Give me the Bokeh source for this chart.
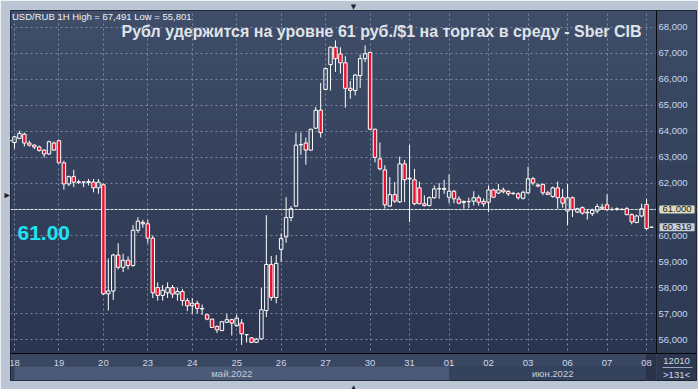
import numpy as np
from bokeh.plotting import figure
from bokeh.models import (ColumnDataSource, LinearAxis, FixedTicker, Range1d, Span,
                          Label, Grid, BoxAnnotation, Title)
from bokeh.embed import file_html
from bokeh.resources import INLINE

# ---------------- data ----------------
day_labels = ["18", "19", "20", "23", "24", "25", "26", "27", "30", "31",
              "01", "02", "03", "06", "07", "08"]
bars_per_day = [9, 9, 9, 9, 9, 9, 9, 9, 8, 8, 8, 8, 8, 8, 8, 2]
lead_bars = 1
month_labels = ["май.2022", "июн.2022"]
month_first_day = ["18", "01"]
price_ticks = [56, 57, 58, 59, 60, 61, 62, 63, 64, 65, 66, 67, 68]
price_tick_labels = ["56,000", "57,000", "58,000", "59,000", "60,000", "61,000", "62,000",
                     "63,000", "64,000", "65,000", "66,000", "67,000", "68,000"]
header_text = "USD/RUB 1H High = 67,491 Low = 55,801"
title_text = "Рубл удержится на уровне 61 руб./$1 на торгах в среду - Sber CIB"
level_price = 61.00
last_price = 60.319
counter_top = "12010"
counter_bottom = ">131<"

opens = [63.66, 63.57, 63.73, 63.89, 63.55, 63.47, 63.40, 63.28, 63.13, 63.55,
         63.64, 62.79, 61.98, 62.26, 62.06, 62.05, 62.04, 62.05, 61.83, 61.95,
         57.76, 57.87, 59.25, 58.78, 59.05, 58.85, 60.20, 60.50, 60.45, 59.90,
         58.00, 57.70, 57.80, 58.00, 57.75, 57.85, 57.50, 57.30, 57.40, 57.20,
         56.96, 56.79, 56.51, 56.35, 56.67, 56.77, 56.54, 56.64, 56.19, 56.07,
         55.90, 56.03, 57.12, 58.89, 57.62, 59.47, 59.95, 60.69, 61.13, 63.48,
         63.55, 63.28, 64.12, 64.81, 65.61, 66.56, 67.23, 66.97, 66.63, 65.65,
         65.57, 66.14, 66.79, 67.03, 64.08, 62.94, 62.52, 61.13, 61.57, 61.29,
         62.75, 62.20, 62.14, 61.83, 61.22, 61.15, 61.45, 61.79, 61.77, 61.47,
         61.70, 61.40, 61.27, 61.30, 61.32, 61.45, 61.31, 61.28, 61.75, 61.63,
         61.75, 61.69, 61.62, 61.60, 61.43, 61.64, 62.18, 61.94, 61.96, 61.64,
         61.50, 61.83, 61.45, 60.94, 61.45, 60.90, 61.07, 60.90, 60.84, 60.94,
         61.05, 61.18, 61.00, 61.02, 61.00, 61.03, 60.80, 60.50, 60.75, 61.19,
         60.32]
highs = [63.70, 63.82, 64.02, 63.95, 63.64, 63.50, 63.45, 63.30, 63.64, 63.61,
         63.66, 62.87, 62.30, 62.52, 62.14, 62.08, 62.17, 62.17, 62.17, 62.00,
         59.12, 59.30, 59.70, 59.30, 59.20, 60.40, 60.70, 60.60, 60.60, 60.00,
         58.20, 58.10, 58.20, 58.10, 58.00, 57.95, 57.60, 57.60, 57.50, 57.35,
         57.00, 56.80, 56.55, 56.72, 56.99, 56.80, 56.96, 56.79, 56.22, 56.10,
         56.05, 57.98, 60.78, 59.21, 59.25, 60.08, 61.47, 61.13, 63.95, 63.95,
         63.76, 64.10, 64.94, 65.86, 66.45, 67.25, 67.49, 67.23, 66.88, 65.93,
         66.20, 66.95, 67.30, 67.05, 64.10, 63.57, 62.70, 62.24, 62.05, 63.03,
         62.90, 63.48, 62.56, 62.07, 61.54, 61.50, 61.92, 62.01, 62.14, 62.34,
         61.75, 61.50, 61.34, 61.45, 61.70, 61.55, 61.42, 61.92, 61.80, 61.98,
         61.84, 61.75, 61.68, 61.66, 61.72, 62.64, 62.25, 62.00, 62.00, 61.72,
         61.88, 62.07, 61.79, 61.98, 61.50, 61.07, 61.12, 60.98, 61.03, 61.22,
         61.22, 61.58, 61.08, 61.08, 61.05, 61.10, 60.85, 60.80, 61.22, 61.41,
         60.33]
lows = [63.58, 63.34, 63.70, 63.42, 63.41, 63.32, 63.22, 63.00, 63.10, 63.25,
        62.77, 61.76, 61.90, 61.86, 61.98, 61.86, 61.92, 61.66, 61.60, 57.72,
        57.12, 57.53, 58.70, 58.60, 58.70, 58.80, 60.10, 60.30, 59.70, 57.60,
        57.50, 57.50, 57.60, 57.60, 57.50, 57.30, 57.10, 57.00, 57.00, 56.95,
        56.75, 56.45, 56.26, 56.33, 56.65, 56.16, 56.50, 55.80, 55.89, 55.87,
        55.88, 56.00, 56.87, 57.50, 57.40, 58.99, 59.72, 60.55, 61.10, 63.10,
        62.72, 63.25, 64.10, 63.76, 65.58, 65.57, 66.28, 66.22, 64.91, 65.25,
        65.38, 65.67, 66.66, 64.05, 62.81, 62.50, 61.03, 61.10, 61.25, 61.25,
        61.28, 60.52, 61.16, 61.20, 61.12, 61.12, 61.42, 61.41, 61.60, 61.24,
        61.24, 61.20, 61.03, 61.05, 61.15, 61.15, 61.10, 60.90, 61.45, 61.60,
        61.62, 61.52, 61.56, 61.38, 61.38, 61.60, 61.93, 61.85, 61.55, 61.55,
        61.45, 61.03, 61.07, 60.39, 60.71, 60.87, 60.80, 60.61, 60.75, 60.85,
        60.98, 60.94, 60.94, 60.95, 60.96, 60.78, 60.43, 60.47, 60.70, 60.20,
        60.31]
closes = [63.62, 63.79, 63.92, 63.55, 63.47, 63.40, 63.27, 63.13, 63.60, 63.28,
          62.79, 61.98, 62.26, 62.05, 62.04, 62.05, 62.07, 61.83, 62.05, 57.76,
          57.87, 59.25, 58.78, 59.05, 58.85, 60.20, 60.55, 60.45, 59.90, 57.80,
          57.70, 57.90, 58.00, 57.75, 57.85, 57.50, 57.30, 57.40, 57.20, 57.18,
          56.79, 56.47, 56.38, 56.69, 56.77, 56.64, 56.83, 56.23, 56.20, 55.90,
          56.03, 57.15, 58.89, 57.62, 58.93, 59.89, 60.69, 61.03, 63.47, 63.49,
          63.28, 64.08, 64.81, 63.95, 66.41, 67.23, 66.79, 66.63, 65.65, 65.57,
          66.16, 66.79, 66.98, 64.08, 63.00, 62.56, 61.18, 61.57, 61.32, 62.75,
          62.14, 62.17, 61.22, 61.22, 61.15, 61.45, 61.79, 61.80, 61.81, 61.70,
          61.41, 61.24, 61.31, 61.31, 61.45, 61.28, 61.22, 61.75, 61.47, 61.75,
          61.68, 61.60, 61.61, 61.45, 61.66, 62.18, 62.02, 61.90, 61.64, 61.58,
          61.83, 61.45, 61.24, 61.45, 60.99, 61.03, 60.86, 60.87, 60.97, 61.11,
          61.09, 60.99, 61.00, 61.02, 61.00, 60.80, 60.52, 60.75, 61.03, 60.27,
          60.32]

# ---------------- geometry (pixels of the 698x389 window) ----------------
W, H = 698, 389
FL, FT = 9, 9                 # frame = whole dark area: x 9..696, y 9..381
FR, FB = 696, 381
PX_PRICE_R, PX_PRICE_B = 656, 354     # right / bottom edge of the price area
X0 = 0.19
SX = 4.9453                   # pixels per bar
Y1 = 68.638
SY = 26.191                   # pixels per rouble
X1 = X0 + (FR - FL) / SX
Y0 = Y1 - (FB - FT) / SY


def ix(px):
    return X0 + (px - FL) / SX


def py(pv):
    return Y1 - (pv - FT) / SY


XE, YE = ix(PX_PRICE_R), py(PX_PRICE_B)

n = len(opens)
xs = np.arange(n)
o = np.array(opens); c = np.array(closes); hi = np.array(highs); lo = np.array(lows)
body_top = np.maximum(o, c)
body_bot = np.minimum(o, c)
up = c >= o

day_starts = [int(v) for v in lead_bars + np.concatenate([[0], np.cumsum(bars_per_day)[:-1]])]
m_left = [day_starts[day_labels.index(d)] for d in month_first_day]
m_right = m_left[1:] + [XE]
m_centers = [int(round((a + b) / 2)) for a, b in zip(m_left, m_right)]

BORDER = "#bac6d4"
p = figure(width=W, height=H, x_range=Range1d(X0, X1), y_range=Range1d(Y0, Y1),
           output_backend="svg", toolbar_location=None,
           x_axis_location=None, y_axis_location=None,
           min_border_left=FL, min_border_top=FT,
           min_border_right=W - FR, min_border_bottom=H - FB)
# drop the default grids that figure() creates for its hidden axes
p.center = [r for r in p.center if not isinstance(r, Grid)]
p.border_fill_color = BORDER
p.background_fill_color = "#36435f"
p.outline_line_color = "#161c29"
p.outline_line_width = 1

# window arrows (terminal scroll markers) as titles in the light border
p.title.text = "▼"
p.title.align = "center"
p.title.text_font = "DejaVu Sans"
p.title.text_font_size = "7px"
p.title.text_color = "#1b2232"
p.title.standoff = 0
p.add_layout(Title(text="▲", align="center", text_font="DejaVu Sans", text_font_size="6px",
                   text_color="#1b2232", standoff=0), "below")
p.add_layout(Title(text="▼", align="center", text_font="DejaVu Sans", text_font_size="7px",
                   text_color="#1b2232", standoff=0), "left")

# gradient background of the chart
NG = 200
tt = np.linspace(0, 1, NG)
bot_rgb = np.array([43, 53, 79]); top_rgb = np.array([64, 78, 105])
img = np.zeros((NG, 1), dtype=np.uint32)
view = img.view(dtype=np.uint8).reshape((NG, 1, 4))
for i in range(NG):
    col = bot_rgb + (top_rgb - bot_rgb) * tt[i]
    view[i, 0, 0:3] = col.astype(np.uint8)
    view[i, 0, 3] = 255
p.image_rgba(image=[img], x=X0, y=YE, dw=XE - X0, dh=Y1 - YE, level="image")


def plain_axis(ax, size="9.5px", color="#c5d8f2", standoff=2):
    ax.major_tick_line_color = None
    ax.minor_tick_line_color = None
    ax.major_tick_out = 0
    ax.major_tick_in = 0
    ax.minor_tick_out = 0
    ax.minor_tick_in = 0
    ax.major_label_standoff = standoff
    ax.major_label_text_color = color
    ax.major_label_text_font = "Liberation Sans"
    ax.major_label_text_font_size = size


# axes fixed at the edges of the price area
yax = LinearAxis(ticker=FixedTicker(ticks=price_ticks), fixed_location=XE, bounds=(YE, Y1),
                 major_label_overrides={t: s for t, s in zip(price_ticks, price_tick_labels)})
plain_axis(yax, standoff=2)
yax.axis_line_color = "#05070b"
p.add_layout(yax, "right")

xax = LinearAxis(ticker=FixedTicker(ticks=day_starts), fixed_location=YE,
                 major_label_overrides={t: s for t, s in zip(day_starts, day_labels)})
plain_axis(xax, color="#cad8ec", standoff=6)
xax.axis_line_color = "#05070b"
p.add_layout(xax, "below")

max_ = LinearAxis(ticker=FixedTicker(ticks=m_centers), fixed_location=py(367),
                  major_label_overrides={t: s for t, s in zip(m_centers, month_labels)})
plain_axis(max_, color="#c3cedd", standoff=1)
max_.axis_line_color = None
p.add_layout(max_, "below")

# grid and level line (underlay, painted over by the side panels)
GRID = "#7b89a4"
gx = Grid(dimension=0, ticker=xax.ticker)
gy = Grid(dimension=1, ticker=yax.ticker)
for g in (gx, gy):
    g.grid_line_color = GRID
    g.grid_line_alpha = 1.0
    g.grid_line_dash = "2 3"
    g.grid_line_width = 1
    p.add_layout(g)
p.add_layout(Span(location=level_price, dimension="width", line_color="#e4e6ea",
                  line_dash="3 1", line_width=1, level="underlay"))


def box(l, r, t, b, color, line=None):
    p.add_layout(BoxAnnotation(left=l, right=r, top=t, bottom=b, fill_color=color,
                               fill_alpha=1.0, line_color=line, level="underlay"))


# right price panel with a vertical gradient
steps = 12
ct, cb = (61, 75, 102), (44, 55, 80)
for k in range(steps):
    a = FT + (FB - FT) * k / steps
    b = FT + (FB - FT) * (k + 1) / steps
    f = (k + 0.5) / steps
    rgb = tuple(int(ct[j] + (cb[j] - ct[j]) * f) for j in range(3))
    box(XE, X1, py(a), py(b), "#%02x%02x%02x" % rgb)
# date rows
box(X0, XE, YE, py(367), "#3a4763")
box(X0, XE, py(367), Y0, "#35425e")
box(m_left[0], m_left[1], py(367), Y0, "#4b5a77")
box(ix(645), XE, YE, Y0, "#2a3349", line="#46526b")
box(ix(662), ix(692), py(367.5), py(368.5), "#9aa8bf")

# candles
src = ColumnDataSource(dict(x=xs, hi=hi, lo=lo, top=body_top, bot=body_bot,
                            fill=np.where(up, "#2f3a55", "#e8112d").tolist(),
                            falpha=np.where(up, 0.0, 1.0)))
p.segment(x0="x", y0="hi", x1="x", y1="top", source=src, line_color="white", line_width=1)
p.segment(x0="x", y0="bot", x1="x", y1="lo", source=src, line_color="white", line_width=1)
p.vbar(x="x", width=0.7, top="top", bottom="bot", source=src,
       fill_color="fill", fill_alpha="falpha", line_color="white", line_width=1)

# texts
p.add_layout(Label(x=ix(10.5), y=py(15), text=header_text, text_font="Liberation Sans",
                   text_font_size="9.5px", text_color="#eef1f5", text_baseline="middle"))
p.add_layout(Label(x=ix(641), y=py(30), text=title_text, text_font="Liberation Sans",
                   text_font_style="bold", text_font_size="16px", text_color="#dfe3ea",
                   text_align="right", text_baseline="middle"))
p.add_layout(Label(x=ix(16), y=py(233), text="%.2f" % level_price, text_font="Liberation Sans",
                   text_font_style="bold", text_font_size="21px", text_color="#1ee3f2",
                   text_baseline="middle"))

# price tags on the axis
p.add_layout(Label(x=ix(659), y=level_price, text="{:,.3f}".format(level_price),
                   text_font="Liberation Sans", text_font_size="9.5px", text_color="#1a1a1a",
                   text_baseline="middle", background_fill_color="#dcdcbf", padding=(3, 1)))
p.add_layout(Label(x=ix(659), y=last_price, text="{:,.3f}".format(last_price),
                   text_font="Liberation Sans", text_font_size="9.5px", text_color="#1a1a1a",
                   text_baseline="middle", background_fill_color="#c9ced8", padding=(3, 1)))

# counters in the corner
p.add_layout(Label(x=ix(676), y=py(361), text=counter_top, text_font="Liberation Sans",
                   text_font_size="9.5px", text_color="#cfdbea", text_align="center",
                   text_baseline="middle"))
p.add_layout(Label(x=ix(676), y=py(375), text=counter_bottom, text_font="Liberation Sans",
                   text_font_size="9.5px", text_color="#cfdbea", text_align="center",
                   text_baseline="middle"))

open("out.html", "w").write(file_html(p, INLINE))
